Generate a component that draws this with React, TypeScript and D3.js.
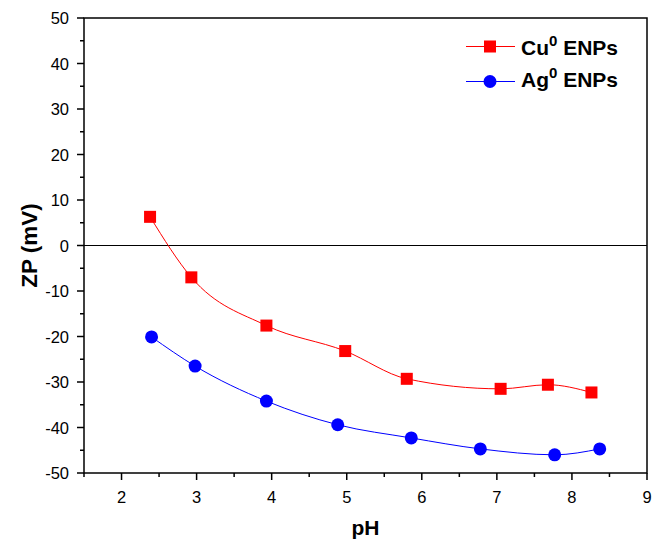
import React from "react";
import * as d3 from "d3";

const cuPH = [2.38, 2.93, 3.93, 4.98, 5.8, 7.05, 7.68, 8.26];
const cuZP = [6.3, -7.0, -17.6, -23.2, -29.3, -31.5, -30.6, -32.3];
const agPH = [2.4, 2.98, 3.93, 4.88, 5.86, 6.78, 7.77, 8.37];
const agZP = [-20.1, -26.5, -34.2, -39.4, -42.3, -44.7, -46.0, -44.7];
const xTicks = [2, 3, 4, 5, 6, 7, 8, 9];
const yTicks = [-50, -40, -30, -20, -10, 0, 10, 20, 30, 40, 50];

const W = 652, H = 543;
const m = { left: 84, right: 647, top: 18, bottom: 473 };

export default function App() {
  const x = d3.scaleLinear().domain([1.5, 9]).range([m.left, m.right]);
  const y = d3.scaleLinear().domain([-50, 50]).range([m.bottom, m.top]);
  const line = d3
    .line<[number, number]>()
    .x((d) => x(d[0]))
    .y((d) => y(d[1]))
    .curve(d3.curveMonotoneX);
  const cu: [number, number][] = cuPH.map((p, i) => [p, cuZP[i]]);
  const ag: [number, number][] = agPH.map((p, i) => [p, agZP[i]]);
  const xMinor = d3.range(1.5, 9.01, 0.5).filter((v) => !xTicks.includes(v));
  const yMinor = d3.range(-45, 50, 10);
  const font = "'Liberation Sans', Arial, sans-serif";
  return (
    <svg width={W} height={H} style={{ position: "absolute", left: 0, top: 0, background: "#fff" }} fontFamily={font}>
      <rect x={0} y={0} width={W} height={H} fill="#fff" />
      <line x1={m.left} x2={m.right} y1={y(0)} y2={y(0)} stroke="#000" strokeWidth={1.2} />
      <path d={line(cu) || ""} fill="none" stroke="#ff0000" strokeWidth={1} />
      <path d={line(ag) || ""} fill="none" stroke="#0000ff" strokeWidth={1} />
      {cu.map((d, i) => (
        <rect key={"c" + i} x={x(d[0]) - 6} y={y(d[1]) - 6} width={12} height={12} fill="#ff0000" />
      ))}
      {ag.map((d, i) => (
        <circle key={"a" + i} cx={x(d[0])} cy={y(d[1])} r={6.5} fill="#0000ff" />
      ))}
      <rect x={m.left} y={m.top} width={m.right - m.left} height={m.bottom - m.top} fill="none" stroke="#000" strokeWidth={1.5} />
      {xTicks.map((t) => (
        <g key={"xt" + t}>
          <line x1={x(t)} x2={x(t)} y1={m.bottom} y2={m.bottom + 7} stroke="#000" strokeWidth={1.5} />
          <text x={x(t)} y={m.bottom + 30} textAnchor="middle" fontSize={16.5}>{t}</text>
        </g>
      ))}
      {xMinor.map((t) => (
        <line key={"xm" + t} x1={x(t)} x2={x(t)} y1={m.bottom} y2={m.bottom + 4} stroke="#000" strokeWidth={1.5} />
      ))}
      {yTicks.map((t) => (
        <g key={"yt" + t}>
          <line x1={m.left - 7} x2={m.left} y1={y(t)} y2={y(t)} stroke="#000" strokeWidth={1.5} />
          <text x={m.left - 15} y={y(t) + 6} textAnchor="end" fontSize={16.5}>{t}</text>
        </g>
      ))}
      {yMinor.map((t) => (
        <line key={"ym" + t} x1={m.left - 4} x2={m.left} y1={y(t)} y2={y(t)} stroke="#000" strokeWidth={1.5} />
      ))}
      <text x={(m.left + m.right) / 2} y={535} textAnchor="middle" fontSize={21} fontWeight="bold">pH</text>
      <text transform={`translate(37,${y(0)}) rotate(-90)`} textAnchor="middle" fontSize={22.5} fontWeight="bold">ZP (mV)</text>
      <g>
        <line x1={466} x2={515} y1={46.5} y2={46.5} stroke="#ff0000" strokeWidth={1} />
        <rect x={484} y={40.5} width={12} height={12} fill="#ff0000" />
        <text x={521} y={55} fontSize={21} fontWeight="bold">
          Cu<tspan fontSize={15} dy={-9}>0</tspan><tspan dy={9}> ENPs</tspan>
        </text>
        <line x1={466} x2={515} y1={81.5} y2={81.5} stroke="#0000ff" strokeWidth={1} />
        <circle cx={490} cy={81.5} r={6.5} fill="#0000ff" />
        <text x={521} y={87} fontSize={21} fontWeight="bold">
          Ag<tspan fontSize={15} dy={-9}>0</tspan><tspan dy={9}> ENPs</tspan>
        </text>
      </g>
    </svg>
  );
}
